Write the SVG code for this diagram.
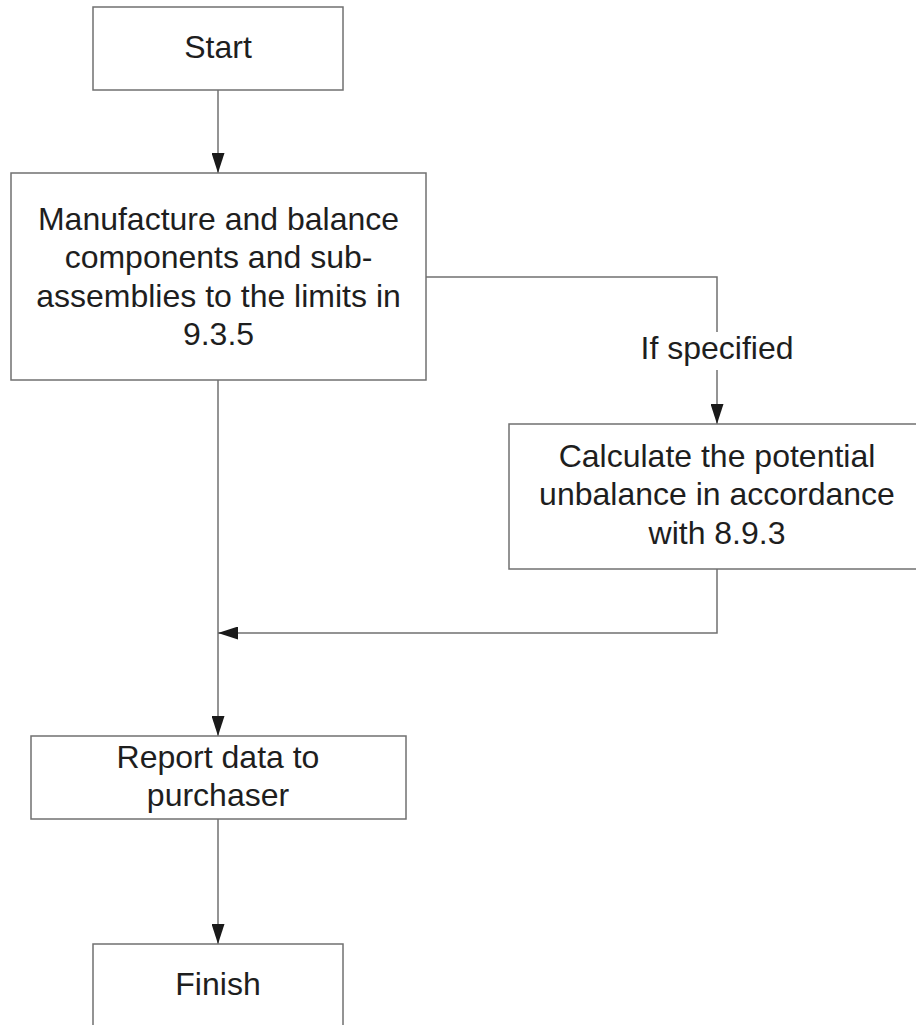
<svg xmlns="http://www.w3.org/2000/svg" width="916" height="1025" viewBox="0 0 916 1025">
<style>
.box{fill:#ffffff;stroke:#707070;stroke-width:1.5}
.ln{fill:none;stroke:#707070;stroke-width:1.5}
text{font-family:"Liberation Sans",Arial,sans-serif;font-size:32px;fill:#1e1e1e;text-anchor:middle}
</style>
<defs>
<marker id="ah" viewBox="0 0 20 13" refX="20" refY="6.5" markerWidth="20" markerHeight="13" markerUnits="userSpaceOnUse" orient="auto">
<path d="M0,0 L20,6.5 L0,13 Z" fill="#1a1a1a"/>
</marker>
</defs>
<rect width="916" height="1025" fill="#ffffff"/>
<g id="connectors">
<line class="ln" x1="218" y1="90" x2="218" y2="173" marker-end="url(#ah)"/>
<polyline class="ln" points="426,277 717,277 717,332"/>
<line class="ln" x1="717" y1="370" x2="717" y2="424" marker-end="url(#ah)"/>
<line class="ln" x1="218" y1="380" x2="218" y2="736" marker-end="url(#ah)"/>
<polyline class="ln" points="717,569 717,633 218,633" marker-end="url(#ah)"/>
<line class="ln" x1="218" y1="819" x2="218" y2="944" marker-end="url(#ah)"/>
<text x="717" y="359">If specified</text>
</g>
<g id="start">
<rect class="box" x="93" y="7" width="250" height="83"/>
<text x="218" y="58">Start</text>
</g>
<g id="manufacture">
<rect class="box" x="11" y="173" width="415" height="207"/>
<text x="218.5" y="230">Manufacture and balance</text>
<text x="218.5" y="268">components and sub-</text>
<text x="218.5" y="307">assemblies to the limits in</text>
<text x="218.5" y="345">9.3.5</text>
</g>
<g id="calculate">
<rect class="box" x="509" y="424" width="420" height="145"/>
<text x="717" y="467">Calculate the potential</text>
<text x="717" y="505">unbalance in accordance</text>
<text x="717" y="544">with 8.9.3</text>
</g>
<g id="report">
<rect class="box" x="31" y="736" width="375" height="83"/>
<text x="218" y="768">Report data to</text>
<text x="218" y="806">purchaser</text>
</g>
<g id="finish">
<rect class="box" x="93" y="944" width="250" height="100"/>
<text x="218" y="995">Finish</text>
</g>
</svg>
